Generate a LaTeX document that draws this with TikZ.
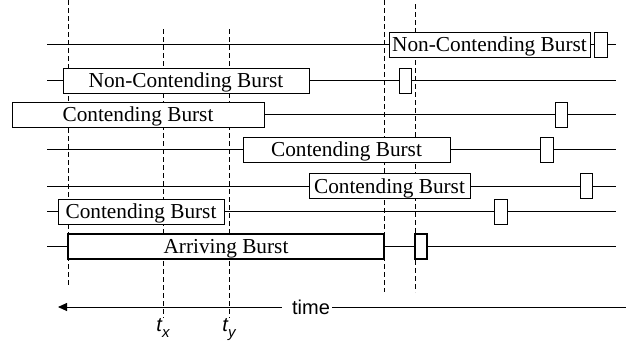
\documentclass[tikz,border=0pt]{standalone}
\usepackage{fontspec}
\setmainfont{Liberation Serif}
\setsansfont{Liberation Sans}
\usetikzlibrary{arrows.meta}

\tikzset{
  track/.style={line width=0.9pt},
  guide/.style={line width=0.75pt, dash pattern=on 5pt off 3pt},
  burst/.style={draw, fill=white, line width=0.9pt, rectangle, inner sep=0pt,
    minimum height=25pt, text height=14pt, text depth=0pt,
    font=\fontsize{21.3}{24}\selectfont},
  arrive/.style={burst, line width=1.8pt},
  tick/.style={draw, fill=white, line width=0.9pt, rectangle, inner sep=0pt,
    minimum width=12.5pt, minimum height=25pt},
  ticka/.style={tick, line width=1.8pt},
  lbl/.style={inner sep=0pt, font=\sffamily\fontsize{20}{22}\selectfont},
}

\begin{document}
\begin{tikzpicture}[x=1pt, y=-1pt]
  \useasboundingbox (0,0) rectangle (642,349);

  % vertical reference instants
  \coordinate (d1a) at (68,0);    \coordinate (d1b) at (68,287);
  \coordinate (d2a) at (163,29);  \coordinate (d2b) at (163,318);
  \coordinate (d3a) at (229,29);  \coordinate (d3b) at (229,318);
  \coordinate (d4a) at (384,0);   \coordinate (d4b) at (384,292);
  \coordinate (d5a) at (415,4);   \coordinate (d5b) at (415,292);
  \foreach \i in {1,...,5} \draw[guide] (d\i a) -- (d\i b);

  % channel time lines
  \foreach \i/\y in {1/44.5, 2/80.5, 3/114.5, 4/149.5, 5/186, 6/211.5, 7/246.5} {
    \coordinate (s\i) at (47,\y);
    \coordinate (e\i) at (616,\y);
    \draw[track] (s\i) -- (e\i);
  }

  % bursts on each channel
  \node[burst, minimum width=201pt] (b1) at (489.5,44.5) {Non-Contending Burst};
  \node[tick] (k1) at (601,44.5) {};

  \node[burst, minimum width=246pt] (b2) at (186,80.5) {Non-Contending Burst};
  \node[tick] (k2) at (405.5,80.5) {};

  \node[burst, minimum width=252pt] (b3) at (138,114.5) {Contending Burst};
  \node[tick] (k3) at (561.5,114.5) {};

  \node[burst, minimum width=207pt] (b4) at (346.5,149.5) {Contending Burst};
  \node[tick] (k4) at (547,149.5) {};

  \node[burst, minimum width=161pt] (b5) at (389.5,186) {Contending Burst};
  \node[tick] (k5) at (586.5,186) {};

  \node[burst, minimum width=166pt] (b6) at (141,211.5) {Contending Burst};
  \node[tick] (k6) at (501,211.5) {};

  \node[arrive, minimum width=316pt] (b7) at (226,246.5) {Arriving Burst};
  \node[ticka] (k7) at (421,246.5) {};

  % time axis
  \node[lbl, text height=14pt, text depth=0pt] (time) at (311,307) {time};
  \coordinate (tl) at (58,307);
  \coordinate (tr) at (626,307);
  \draw[track, -{Triangle[length=9pt, width=8pt]}] ([xshift=-10pt]time.west) -- (tl);
  \draw[track] ([xshift=2pt]time.east) -- (tr);

  % instants t_x and t_y
  \node[lbl, anchor=north] (tx) at (163,318) {\itshape t\raisebox{-0.3em}{\fontsize{15}{16}\selectfont x}};
  \node[lbl, anchor=north] (ty) at (229,318) {\itshape t\raisebox{-0.3em}{\fontsize{15}{16}\selectfont y}};
\end{tikzpicture}
\end{document}
